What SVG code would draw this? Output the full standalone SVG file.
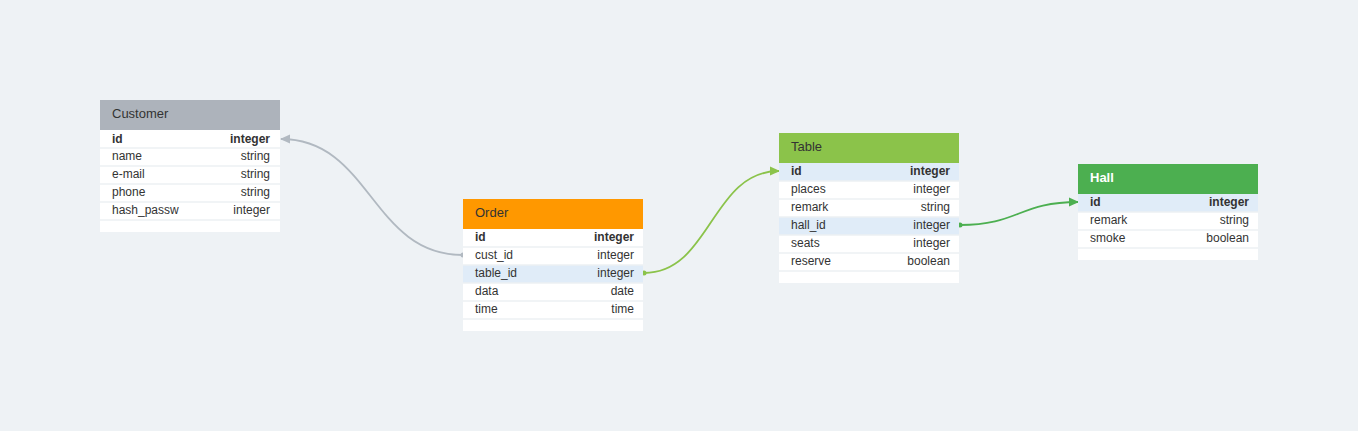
<svg xmlns="http://www.w3.org/2000/svg" width="1358" height="431" viewBox="0 0 1358 431">
<defs>
<style>
text{font-family:"Liberation Sans",Arial,sans-serif;font-size:12px;fill:#333}
.b{font-weight:bold}
.r{text-anchor:end}
.h{font-size:13px}
.tw{fill:#fff;font-weight:bold}
.body{fill:#fff}
.sep{stroke:#edf0f3;stroke-width:1.5}
.hl{fill:#e0ecf8}
.c{fill:none;stroke-width:1.8}
</style>
<marker id="ag" viewBox="0 0 10 10" refX="9" refY="5" markerWidth="10" markerHeight="10" markerUnits="userSpaceOnUse" orient="auto"><path d="M0,0.5 L10,5 L0,9.5 z" fill="#b1b9c1"/></marker>
<marker id="dg" viewBox="0 0 6 6" refX="3" refY="3" markerWidth="6" markerHeight="6" markerUnits="userSpaceOnUse"><circle cx="3" cy="3" r="2.5" fill="#b1b9c1"/></marker>
<marker id="al" viewBox="0 0 10 10" refX="9" refY="5" markerWidth="10" markerHeight="10" markerUnits="userSpaceOnUse" orient="auto"><path d="M0,0.5 L10,5 L0,9.5 z" fill="#8bc34a"/></marker>
<marker id="dl" viewBox="0 0 6 6" refX="3" refY="3" markerWidth="6" markerHeight="6" markerUnits="userSpaceOnUse"><circle cx="3" cy="3" r="2.5" fill="#8bc34a"/></marker>
<marker id="ah" viewBox="0 0 10 10" refX="9" refY="5" markerWidth="10" markerHeight="10" markerUnits="userSpaceOnUse" orient="auto"><path d="M0,0.5 L10,5 L0,9.5 z" fill="#4caf50"/></marker>
<marker id="dh" viewBox="0 0 6 6" refX="3" refY="3" markerWidth="6" markerHeight="6" markerUnits="userSpaceOnUse"><circle cx="3" cy="3" r="2.5" fill="#4caf50"/></marker>
</defs>
<rect width="1358" height="431" fill="#eef2f5"/>

<g id="connectors">
<path class="c" stroke="#b1b9c1" stroke-width="1.2" d="M463,255 C371,255 371,139 281,139" marker-start="url(#dg)" marker-end="url(#ag)"/>
<path class="c" stroke="#8bc34a" d="M644,273 C711,273 711,171 779,171" marker-start="url(#dl)" marker-end="url(#al)"/>
<path class="c" stroke="#4caf50" d="M960,225 C1019,225 1019,202 1078,202" marker-start="url(#dh)" marker-end="url(#ah)"/>
</g>

<g id="customer">
<rect x="100" y="100" width="180" height="132" class="body"/>
<rect x="100" y="100" width="180" height="30" fill="#adb3bb"/>
<text x="112" y="118" class="h">Customer</text>
<line class="sep" x1="100" y1="148" x2="280" y2="148"/>
<line class="sep" x1="100" y1="166" x2="280" y2="166"/>
<line class="sep" x1="100" y1="184" x2="280" y2="184"/>
<line class="sep" x1="100" y1="202" x2="280" y2="202"/>
<line class="sep" x1="100" y1="220" x2="280" y2="220"/>
<text x="112" y="143" class="b">id</text><text x="270" y="143" class="b r">integer</text>
<text x="112" y="160">name</text><text x="270" y="160" class="r">string</text>
<text x="112" y="178">e-mail</text><text x="270" y="178" class="r">string</text>
<text x="112" y="196">phone</text><text x="270" y="196" class="r">string</text>
<text x="112" y="214">hash_passw</text><text x="270" y="214" class="r">integer</text>
</g>

<g id="order">
<rect x="463" y="199" width="180" height="132" class="body"/>
<rect x="463" y="199" width="180" height="30" fill="#ff9800"/>
<text x="475" y="217" class="h">Order</text>
<rect x="463" y="265" width="180" height="18" class="hl"/>
<line class="sep" x1="463" y1="247" x2="643" y2="247"/>
<line class="sep" x1="463" y1="265" x2="643" y2="265"/>
<line class="sep" x1="463" y1="283" x2="643" y2="283"/>
<line class="sep" x1="463" y1="301" x2="643" y2="301"/>
<line class="sep" x1="463" y1="319" x2="643" y2="319"/>
<text x="475" y="241" class="b">id</text><text x="634" y="241" class="b r">integer</text>
<text x="475" y="259">cust_id</text><text x="634" y="259" class="r">integer</text>
<text x="475" y="277">table_id</text><text x="634" y="277" class="r">integer</text>
<text x="475" y="295">data</text><text x="634" y="295" class="r">date</text>
<text x="475" y="313">time</text><text x="634" y="313" class="r">time</text>
</g>

<g id="table">
<rect x="779" y="133" width="180" height="150" class="body"/>
<rect x="779" y="133" width="180" height="30" fill="#8bc34a"/>
<text x="791" y="151" class="h">Table</text>
<rect x="779" y="163" width="180" height="18" class="hl"/>
<rect x="779" y="217" width="180" height="18" class="hl"/>
<line class="sep" x1="779" y1="181" x2="959" y2="181"/>
<line class="sep" x1="779" y1="199" x2="959" y2="199"/>
<line class="sep" x1="779" y1="217" x2="959" y2="217"/>
<line class="sep" x1="779" y1="235" x2="959" y2="235"/>
<line class="sep" x1="779" y1="253" x2="959" y2="253"/>
<line class="sep" x1="779" y1="271" x2="959" y2="271"/>
<text x="791" y="175" class="b">id</text><text x="950" y="175" class="b r">integer</text>
<text x="791" y="193">places</text><text x="950" y="193" class="r">integer</text>
<text x="791" y="211">remark</text><text x="950" y="211" class="r">string</text>
<text x="791" y="229">hall_id</text><text x="950" y="229" class="r">integer</text>
<text x="791" y="247">seats</text><text x="950" y="247" class="r">integer</text>
<text x="791" y="265">reserve</text><text x="950" y="265" class="r">boolean</text>
</g>

<g id="hall">
<rect x="1078" y="164" width="180" height="96" class="body"/>
<rect x="1078" y="164" width="180" height="30" fill="#4caf50"/>
<text x="1090" y="182" class="h tw">Hall</text>
<rect x="1078" y="194" width="180" height="18" class="hl"/>
<line class="sep" x1="1078" y1="212" x2="1258" y2="212"/>
<line class="sep" x1="1078" y1="230" x2="1258" y2="230"/>
<line class="sep" x1="1078" y1="248" x2="1258" y2="248"/>
<text x="1090" y="206" class="b">id</text><text x="1249" y="206" class="b r">integer</text>
<text x="1090" y="224">remark</text><text x="1249" y="224" class="r">string</text>
<text x="1090" y="242">smoke</text><text x="1249" y="242" class="r">boolean</text>
</g>
</svg>
